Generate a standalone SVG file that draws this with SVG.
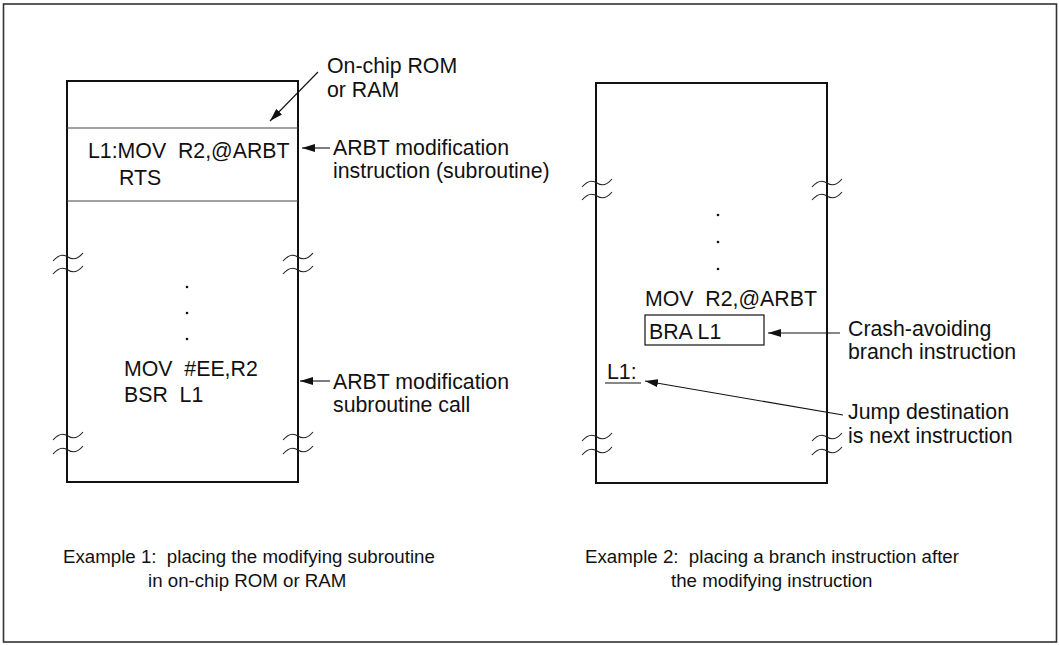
<svg xmlns="http://www.w3.org/2000/svg" width="1059" height="645" viewBox="0 0 1059 645">
<style>
text{font-family:"Liberation Sans",Arial,sans-serif;font-size:21.3px;fill:#111}
.cap{font-size:18.7px}
.box{fill:none;stroke:#111;stroke-width:2}
.div{stroke:#444;stroke-width:1.2}
.brk{fill:none;stroke:#222;stroke-width:1.1}
.con{fill:none;stroke:#111;stroke-width:1.1}
.dot{fill:#111}
</style>
<defs>
<marker id="ah" viewBox="0 0 13 8" refX="13" refY="4" markerWidth="13" markerHeight="8" markerUnits="userSpaceOnUse" orient="auto">
<path d="M0,0 L13,4 L0,8 Z" fill="#111"/>
</marker>
<path id="wv" d="M-15,4 Q-7.5,-5 0,0 T15,-4"/>
</defs>
<rect x="3.5" y="4" width="1053" height="638" fill="#fff" stroke="#333" stroke-width="1.6"/>

<g id="ex1">
<path class="box" d="M67,81 H298 V482 H67 Z"/>
<line class="div" x1="67" y1="128" x2="298" y2="128"/>
<line class="div" x1="67" y1="201" x2="298" y2="201"/>
<g class="brk">
<use href="#wv" x="68" y="257"/><use href="#wv" x="68" y="270"/>
<use href="#wv" x="298" y="257"/><use href="#wv" x="298" y="270"/>
<use href="#wv" x="68" y="436"/><use href="#wv" x="68" y="450"/>
<use href="#wv" x="298" y="436"/><use href="#wv" x="298" y="450"/>
</g>
<text x="88" y="158" xml:space="preserve">L1:MOV  R2,@ARBT</text>
<text x="119" y="185">RTS</text>
<circle class="dot" cx="187" cy="287" r="1.3"/>
<circle class="dot" cx="187" cy="313" r="1.3"/>
<circle class="dot" cx="187" cy="339" r="1.3"/>
<text x="124" y="376" xml:space="preserve">MOV  #EE,R2</text>
<text x="124" y="402" xml:space="preserve">BSR  L1</text>
<text class="cap" x="63" y="563" xml:space="preserve">Example 1:  placing the modifying subroutine</text>
<text class="cap" x="148" y="587">in on-chip ROM or RAM</text>
</g>

<g id="ex2">
<path class="box" d="M596,83 H827 V483 H596 Z"/>
<g class="brk">
<use href="#wv" x="597" y="183"/><use href="#wv" x="597" y="196"/>
<use href="#wv" x="827" y="183"/><use href="#wv" x="827" y="196"/>
<use href="#wv" x="597" y="437"/><use href="#wv" x="597" y="451"/>
<use href="#wv" x="827" y="437"/><use href="#wv" x="827" y="451"/>
</g>
<circle class="dot" cx="718" cy="215" r="1.3"/>
<circle class="dot" cx="718" cy="242" r="1.3"/>
<circle class="dot" cx="718" cy="269" r="1.3"/>
<text x="645" y="306" xml:space="preserve">MOV  R2,@ARBT</text>
<rect x="645" y="315" width="119" height="30" fill="none" stroke="#111" stroke-width="1.2"/>
<text x="649" y="339">BRA L1</text>
<text x="607" y="379">L1:</text>
<line x1="605" y1="383" x2="641" y2="383" stroke="#111" stroke-width="1.2"/>
<text class="cap" x="585" y="563" xml:space="preserve">Example 2:  placing a branch instruction after</text>
<text class="cap" x="671" y="587">the modifying instruction</text>
</g>

<g id="label-rom">
<text x="327" y="73">On-chip ROM</text>
<text x="327" y="97">or RAM</text>
</g>
<g id="label-mod">
<text x="333" y="155">ARBT modification</text>
<text x="333" y="178">instruction (subroutine)</text>
</g>
<g id="label-call">
<text x="333" y="389">ARBT modification</text>
<text x="333" y="412">subroutine call</text>
</g>
<g id="label-crash">
<text x="848" y="336">Crash-avoiding</text>
<text x="848" y="359">branch instruction</text>
</g>
<g id="label-jump">
<text x="848" y="419">Jump destination</text>
<text x="848" y="443">is next instruction</text>
</g>

<g id="connectors">
<line class="con" x1="318" y1="72" x2="270" y2="121" marker-end="url(#ah)"/>
<line class="con" x1="330" y1="148" x2="302" y2="148" marker-end="url(#ah)"/>
<line class="con" x1="330" y1="381" x2="300" y2="381" marker-end="url(#ah)"/>
<line class="con" x1="840" y1="333" x2="768" y2="333" marker-end="url(#ah)"/>
<line class="con" x1="843" y1="415" x2="645" y2="381" marker-end="url(#ah)"/>
</g>
</svg>
